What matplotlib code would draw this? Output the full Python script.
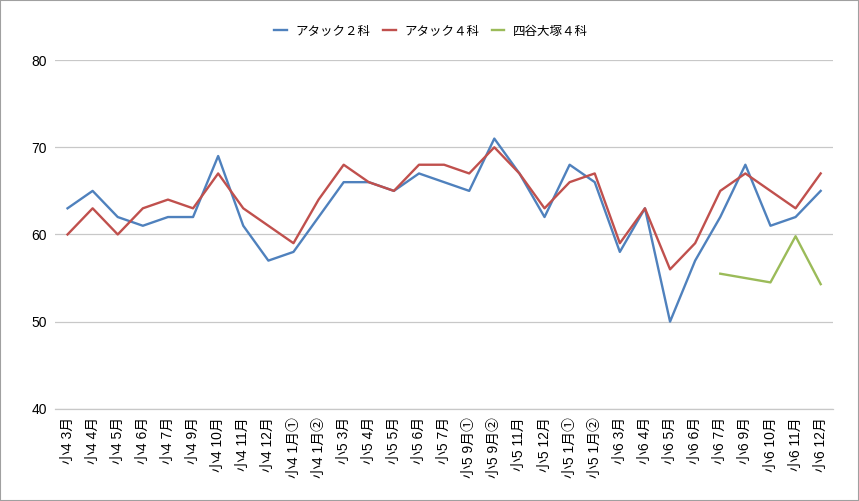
import matplotlib
matplotlib.use("Agg")
import matplotlib.pyplot as plt
from matplotlib.patches import Rectangle

plt.rcParams['font.family'] = ['Liberation Sans', 'Noto Sans CJK JP', 'DejaVu Sans']

labels = ["小4 3月", "小4 4月", "小4 5月", "小4 6月", "小4 7月", "小4 9月",
          "小4 10月", "小4 11月", "小4 12月", "小4 1月①", "小4 1月②",
          "小5 3月", "小5 4月", "小5 5月", "小5 6月", "小5 7月", "小5 9月①",
          "小5 9月②", "小5 11月", "小5 12月", "小5 1月①", "小5 1月②",
          "小6 3月", "小6 4月", "小6 5月", "小6 6月", "小6 7月", "小6 9月",
          "小6 10月", "小6 11月", "小6 12月"]

attack2 = [63, 65, 62, 61, 62, 62, 69, 61, 57, 58, 62,
           66, 66, 65, 67, 66, 65, 71, 67, 62, 68, 66,
           58, 63, 50, 57, 62, 68, 61, 62, 65]
attack4 = [60, 63, 60, 63, 64, 63, 67, 63, 61, 59, 64,
           68, 66, 65, 68, 68, 67, 70, 67, 63, 66, 67,
           59, 63, 56, 59, 65, 67, 65, 63, 67]
# 四谷大塚は小6 7月から
yotsuya_start = 26
yotsuya = [55.5, 55.0, 54.5, 59.8, 54.3]

fig = plt.figure(figsize=(8.59, 5.01), dpi=100)
ax = fig.add_axes([0.064, 0.184, 0.906, 0.696])

x = list(range(len(labels)))
ax.plot(x, attack2, color="#4F81BD", lw=1.7, label="アタック２科")
ax.plot(x, attack4, color="#C0504D", lw=1.7, label="アタック４科")
ax.plot(range(yotsuya_start, yotsuya_start + len(yotsuya)), yotsuya,
        color="#9BBB59", lw=1.7, label="四谷大塚４科")

ax.set_xlim(-0.5, len(labels) - 0.5)
ax.set_ylim(40, 80)
ax.set_yticks([40, 50, 60, 70, 80])
ax.set_xticks(x)
ax.set_xticklabels(labels, rotation=90, fontsize=10)
ax.tick_params(axis='y', labelsize=10, length=0, pad=6)
ax.tick_params(axis='x', length=0, pad=6)
ax.grid(axis='y', color="#C8C8C8", lw=0.9)
ax.set_axisbelow(True)
for s in ["top", "right", "left"]:
    ax.spines[s].set_visible(False)
ax.spines["bottom"].set_color("#C8C8C8")
ax.spines["bottom"].set_linewidth(0.9)

ax.legend(loc="center", bbox_to_anchor=(0.502, 0.938), bbox_transform=fig.transFigure,
          ncol=3, frameon=False, fontsize=9, handlelength=1.0, columnspacing=1.0,
          handletextpad=0.7, prop={'family': ['Noto Sans CJK JP'], 'size': 9})

fig.patches.append(Rectangle((0, 0), 1, 1, transform=fig.transFigure,
                             fill=False, edgecolor="#A0A0A0", lw=1.5))

fig.savefig("out.png", dpi=100)
